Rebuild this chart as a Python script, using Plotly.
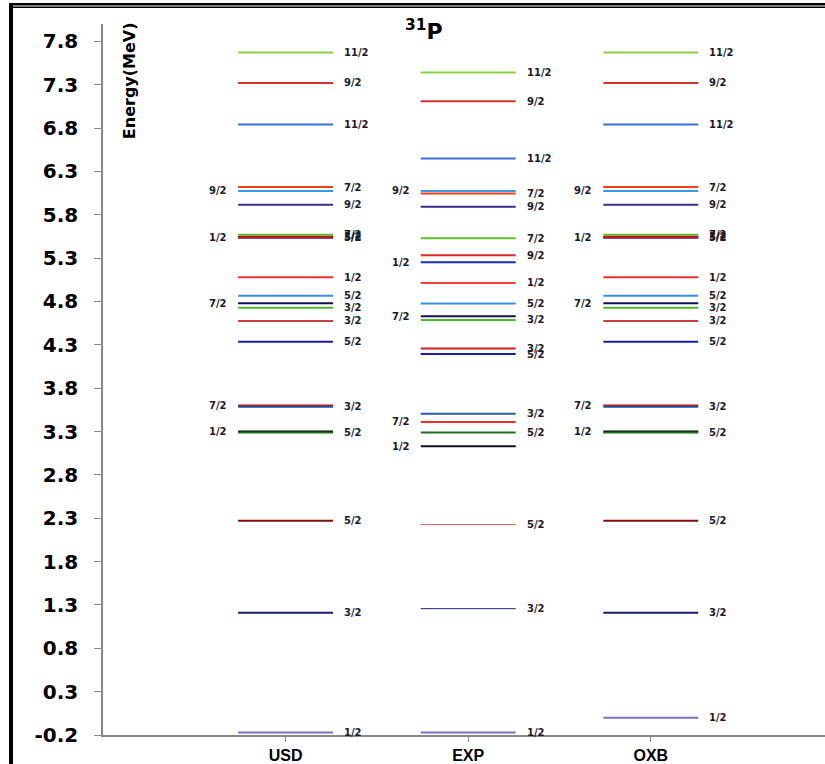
import plotly.graph_objects as go

# ---------------- data ----------------
columns = ["USD", "EXP", "OXB"]

usd_energy = [7.67, 7.32, 6.84, 6.12, 6.075, 5.916, 5.57, 5.545, 5.535, 5.54,
              5.078, 4.867, 4.778, 4.728, 4.575, 4.336, 3.60, 3.585, 3.30, 3.29,
              2.27, 1.21, -0.17]
usd_spin = ["11/2", "9/2", "11/2", "7/2", "9/2", "9/2", "7/2", "3/2", "5/2", "1/2",
            "1/2", "5/2", "7/2", "3/2", "3/2", "5/2", "7/2", "3/2", "1/2", "5/2",
            "5/2", "3/2", "1/2"]
usd_side = ["R", "R", "R", "R", "L", "R", "R", "R", "R", "L",
            "R", "R", "L", "R", "R", "R", "L", "R", "L", "R",
            "R", "R", "R"]

exp_energy = [7.44, 7.11, 6.45, 6.075, 6.044, 5.893, 5.528, 5.332, 5.251, 5.013,
              4.775, 4.628, 4.587, 4.256, 4.194, 3.506, 3.41, 3.29, 3.129,
              2.226, 1.257, -0.17]
exp_spin = ["11/2", "9/2", "11/2", "9/2", "7/2", "9/2", "7/2", "9/2", "1/2", "1/2",
            "5/2", "7/2", "3/2", "3/2", "5/2", "3/2", "7/2", "5/2", "1/2",
            "5/2", "3/2", "1/2"]
exp_side = ["R", "R", "R", "L", "R", "R", "R", "R", "L", "R",
            "R", "L", "R", "R", "R", "R", "L", "R", "L",
            "R", "R", "R"]

oxb_energy = [7.67, 7.32, 6.84, 6.12, 6.075, 5.916, 5.57, 5.545, 5.535, 5.54,
              5.078, 4.867, 4.778, 4.728, 4.575, 4.336, 3.60, 3.585, 3.30, 3.29,
              2.27, 1.21, 0.0]
oxb_spin = list(usd_spin)
oxb_side = list(usd_side)

y_ticks = [7.8, 7.3, 6.8, 6.3, 5.8, 5.3, 4.8, 4.3, 3.8, 3.3, 2.8, 2.3, 1.8, 1.3,
           0.8, 0.3, -0.2]

# ---------------- styles ----------------
usd_colors = ["#8CD040", "#D83030", "#3A6FD8", "#F04020", "#3B9AE8", "#3A2D8C",
              "#5BC22A", "#D41A1A", "#1F2FA0", "#C01818",
              "#F03030", "#3A8EE6", "#101050", "#4DB82A", "#C84040", "#1A1AA0",
              "#D01010", "#2050A0", "#000000", "#207020",
              "#801010", "#1A1A70", "#8070C0"]
oxb_colors = list(usd_colors)
exp_colors = ["#8CD040", "#D83030", "#3A6FD8", "#3B9AE8", "#F04020", "#3A2D8C",
              "#5BC22A", "#E02828", "#1030C0", "#F04040",
              "#3A8EE6", "#101050", "#4DB82A", "#D02020", "#1A1AB0",
              "#2A5AA8", "#F03030", "#207020", "#101020",
              "#B06060", "#202080", "#8070C0"]
exp_widths = [2] * 19 + [1, 1, 2]
usd_widths = [2] * len(usd_energy)
oxb_widths = [2] * len(oxb_energy)

HALF = 0.26
LBL = 0.31

fig = go.Figure()
annotations = []

col_data = [
    (usd_energy, usd_spin, usd_side, usd_colors, usd_widths),
    (exp_energy, exp_spin, exp_side, exp_colors, exp_widths),
    (oxb_energy, oxb_spin, oxb_side, oxb_colors, oxb_widths),
]

LFONT = dict(family="DejaVu Sans", size=10, color="#1a1a2a")

for ci, (en, sp, sd, cl, wd) in enumerate(col_data):
    xc = ci + 1
    for e, s, side, c, w in zip(en, sp, sd, cl, wd):
        fig.add_trace(go.Scatter(
            x=[xc - HALF, xc + HALF], y=[e, e], mode="lines",
            line=dict(color=c, width=w), hoverinfo="skip", showlegend=False))
        if side == "R":
            annotations.append(dict(x=xc + LBL, y=e, xref="x", yref="y",
                                    text="<b>" + s + "</b>",
                                    showarrow=False, xanchor="left", yanchor="middle",
                                    font=LFONT))
        else:
            annotations.append(dict(x=xc - LBL, y=e, xref="x", yref="y",
                                    text="<b>" + s + "</b>",
                                    showarrow=False, xanchor="right", yanchor="middle",
                                    font=LFONT))

# title and y title
annotations.append(dict(x=0.4446, y=0.992, xref="paper", yref="paper",
                        text="<b><sup>31</sup>P</b>", showarrow=False,
                        xanchor="center", yanchor="middle",
                        font=dict(family="DejaVu Sans", size=22, color="#000")))
annotations.append(dict(x=0.036, y=0.921, xref="paper", yref="paper",
                        text="<b>Energy(MeV)</b>", showarrow=False, textangle=-90,
                        xanchor="center", yanchor="middle",
                        font=dict(family="DejaVu Sans", size=16, color="#000")))

W, H = 825, 764
ML, MT, MB = 103, 24, 28.5
plot_w = W - ML
plot_h = H - MT - MB


def px_x(p):
    return (p - ML) / plot_w


def px_y(p):
    return (H - MB - p) / plot_h


shapes = [
    dict(type="line", xref="paper", yref="paper", x0=px_x(11), x1=px_x(11),
         y0=px_y(3), y1=px_y(770), line=dict(color="#000", width=4)),
    dict(type="rect", xref="paper", yref="paper", x0=px_x(9), x1=px_x(830),
         y0=px_y(3), y1=px_y(5.5), line=dict(width=0), fillcolor="#000"),
    dict(type="rect", xref="paper", yref="paper", x0=px_x(9), x1=px_x(830),
         y0=px_y(6.5), y1=px_y(8), line=dict(width=0), fillcolor="#000"),
]

fig.update_layout(
    width=W, height=H,
    margin=dict(l=ML, r=0, t=MT, b=MB, pad=0),
    paper_bgcolor="white", plot_bgcolor="white",
    annotations=annotations, shapes=shapes,
    xaxis=dict(range=[0, plot_w / 182.6], tickmode="array", tickvals=[1, 2, 3],
               ticktext=["<b>%s</b>" % c for c in columns],
               showgrid=False, zeroline=False, showline=True, linecolor="#888",
               linewidth=1.5, ticks="outside", ticklen=5, tickcolor="#888",
               tickfont=dict(family="Liberation Sans", size=16, color="#000")),
    yaxis=dict(range=[-0.2, -0.2 + plot_h / 86.77], tickmode="array", tickvals=y_ticks,
               ticktext=["<b>%.1f</b>" % v for v in y_ticks],
               showgrid=False, zeroline=False, showline=True, linecolor="#888",
               linewidth=1.5, ticks="outside", ticklen=7, tickcolor="#888",
               ticklabelstandoff=12,
               tickfont=dict(family="DejaVu Sans", size=20, color="#000")),
)

fig.write_html("out.html", config={"displayModeBar": False},
               post_script="document.body.style.margin='0';document.body.style.overflow='hidden';")
